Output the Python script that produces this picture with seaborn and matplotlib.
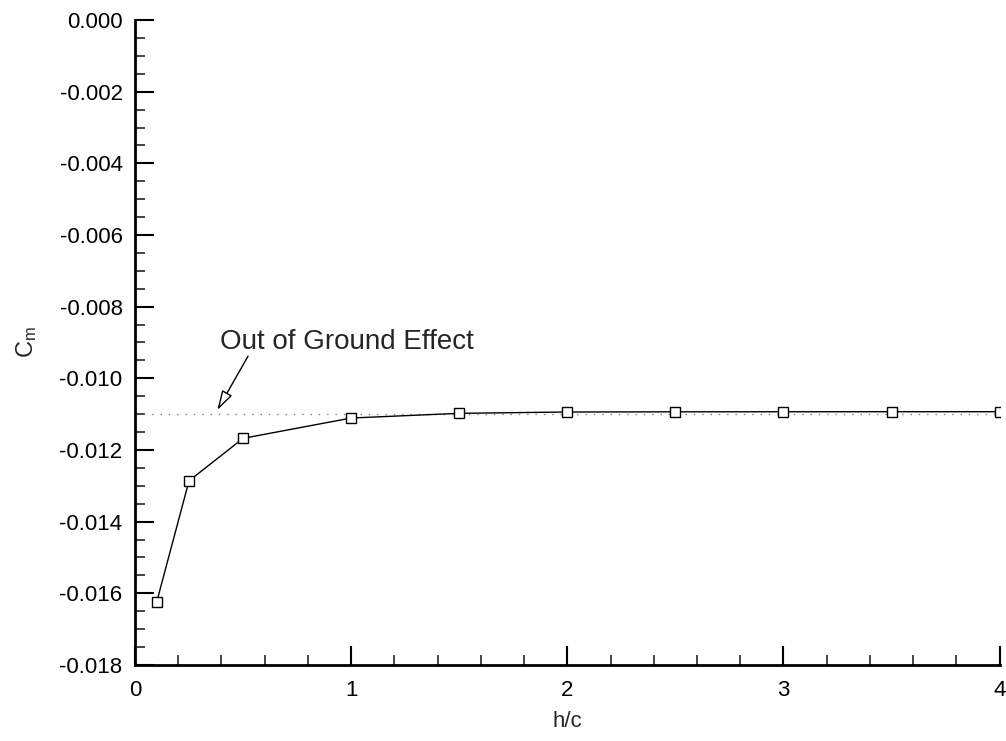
import numpy as np
import pandas as pd
import seaborn as sns
import matplotlib
matplotlib.use("Agg")
import matplotlib.pyplot as plt
from matplotlib.ticker import MultipleLocator, FuncFormatter

# Pitching moment coefficient versus ground clearance
h_over_c = [0.1, 0.25, 0.5, 1.0, 1.5, 2.0, 2.5, 3.0, 3.5, 4.0]
cm = [-0.01625, -0.01286, -0.011675, -0.011108, -0.010977,
      -0.01094, -0.010935, -0.010933, -0.010932, -0.010932]
cm_free_air = -0.011  # out-of-ground-effect reference value

sns.set_style("ticks")
plt.rcParams["font.family"] = ["Liberation Sans", "DejaVu Sans"]
plt.rcParams["mathtext.fontset"] = "custom"
plt.rcParams["mathtext.rm"] = "Liberation Sans"
plt.rcParams["mathtext.it"] = "Liberation Sans"

df = pd.DataFrame({"h/c": h_over_c, "Cm": cm})

fig = plt.figure(figsize=(10.06, 7.41), dpi=100)
ax = fig.add_axes([0.1342, 0.1026, 0.8595, 0.8704])

ax.axhline(cm_free_air, color="#808080", lw=1.0, ls=(0, (1, 5)), zorder=1)

sns.lineplot(data=df, x="h/c", y="Cm", ax=ax, color="black", lw=1.0,
             marker="s", markersize=6.5, markerfacecolor="white",
             markeredgecolor="black", markeredgewidth=1.0, zorder=3)

ax.set_xlim(0, 4)
ax.set_ylim(-0.018, 0.0)
ax.xaxis.set_major_locator(MultipleLocator(1))
ax.xaxis.set_minor_locator(MultipleLocator(0.2))
ax.yaxis.set_major_locator(MultipleLocator(0.002))
ax.yaxis.set_minor_locator(MultipleLocator(0.0005))
ax.xaxis.set_major_formatter(FuncFormatter(lambda v, p: f"{v:g}"))
ax.yaxis.set_major_formatter(
    FuncFormatter(lambda v, p: f"{0.0 if abs(v) < 1e-12 else v:.3f}"))

ax.tick_params(which="major", direction="in", length=14, width=1.5,
               labelsize=16, colors="black")
ax.tick_params(axis="x", which="major", pad=11)
ax.tick_params(axis="y", which="major", pad=9)
ax.tick_params(which="minor", direction="in", length=7, width=1.2)
for side in ("top", "right"):
    ax.spines[side].set_visible(False)
for side in ("left", "bottom"):
    ax.spines[side].set_linewidth(2.0)
    ax.spines[side].set_color("black")

ax.set_xlabel("h/c", fontsize=16, labelpad=7)
ax.set_ylabel(r"$\mathregular{C_m}$", fontsize=17, labelpad=15)

ax.text(0.394, -0.00935, "Out of Ground Effect", fontsize=20,
        ha="left", va="bottom")
ax.annotate("", xy=(0.381, -0.010885), xytext=(0.523, -0.00938),
            arrowprops=dict(arrowstyle="-|>,head_length=1.2,head_width=0.35",
                            facecolor="white", edgecolor="black", lw=1.0,
                            shrinkA=0, shrinkB=0))

fig.savefig("out.png", dpi=100)
